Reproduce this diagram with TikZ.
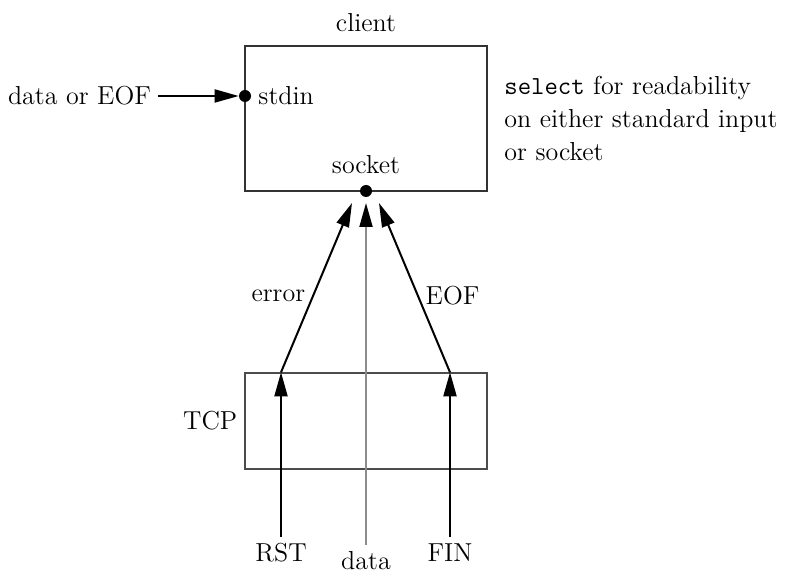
\documentclass[tikz,border=0pt]{standalone}
\usepackage{fontspec}
\usepackage{tikz}
\usetikzlibrary{arrows.meta,calc}
\tikzset{sig/.style={line width=1pt,-{Triangle[length=12pt,width=6.5pt]}},
  box/.style={draw=black!80,line width=1pt,inner sep=0pt},
  dot/.style={circle,fill=black,inner sep=0pt,minimum size=6pt}}

\begin{document}
\begin{tikzpicture}[x=0.5pt,y=-0.5pt,font=\fontsize{13}{16.5}\selectfont]
  \useasboundingbox (0,0) rectangle (801,576);
  % client box
  \node[box,minimum width=121pt,minimum height=72.5pt] (client) at (366,118.5) {};
  \node[above=3pt] (clientlbl) at (client.north) {client};
  \node[dot] (stdin) at (245,96) {};
  \node[right] (stdinlbl) at (stdin.east) {stdin};
  \node[dot] (sock) at (366,191) {};
  \node[above=2pt] (socklbl) at (sock.north) {socket};
  % input
  \node[left] (input) at (158,96) {data or EOF};
  \draw[sig] (input) -- (stdin);
  % note
  \node[anchor=north west,align=left,inner sep=0pt] (note) at (504,76)
    {\texttt{select} for readability\\on either standard input\\or socket};
  % TCP box
  \node[draw=black!70,line width=0.7pt,minimum width=121pt,minimum height=48pt] (tcp) at (366,421) {};
  \node[left] (tcplbl) at (tcp.west) {TCP};
  % segments
  \node (rst) at (281,553) {RST};
  \node (fin) at (450,553) {FIN};
  \node (data) at (366,561) {data};
  \coordinate (rsttop) at (rst |- tcp.north);
  \coordinate (fintop) at (fin |- tcp.north);
  \coordinate (errtip) at (352,203);
  \coordinate (datatip) at (366,203);
  \coordinate (eoftip) at (379,203);
  \draw[sig] (rst) -- (rsttop);
  \draw[sig] (fin) -- (fintop);
  \draw[sig] (rsttop) -- (errtip) node[pos=0.45,left] {error};
  \draw[sig] (fintop) -- (eoftip) node[pos=0.45,right] {EOF};
  \draw[sig,draw=black!45,-{Triangle[length=12pt,width=6.5pt,black]}] (data) -- (datatip);
\end{tikzpicture}
\end{document}
